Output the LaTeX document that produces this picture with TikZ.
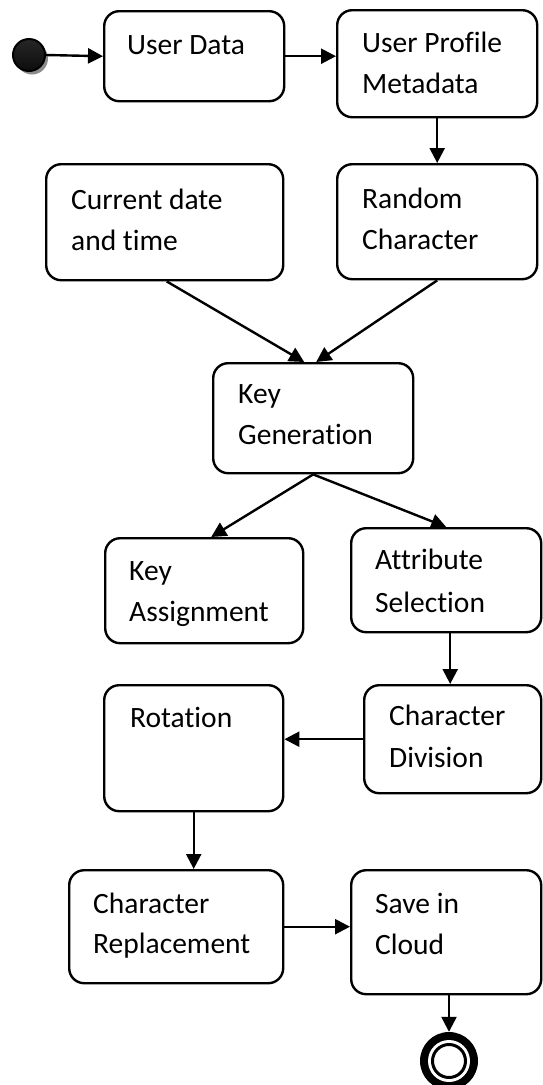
\documentclass[tikz,border=0pt]{standalone}
\usepackage{fontspec}
\setmainfont{Carlito}[Ligatures=NoCommon]
\usetikzlibrary{arrows.meta,calc}
\begin{document}
\begin{tikzpicture}[x=1pt,y=-1pt,
  box/.style={draw, line width=2.4pt, rounded corners=15pt, anchor=north west, inner sep=0pt, fill=white},
  lbl/.style={anchor=base west, inner sep=0pt, font=\fontsize{29.5}{34}\selectfont},
  flow/.style={line width=2.4pt, -{Triangle[length=15pt,width=15pt]}},
]
\useasboundingbox (0,0) rectangle (542,1085);

% boxes
\node[box, minimum width=180pt, minimum height=90pt]  (ud)  at (103,10)  {};
\node[box, minimum width=200pt, minimum height=107pt] (upm) at (336,9)   {};
\node[box, minimum width=237pt, minimum height=116pt] (cdt) at (45,163)  {};
\node[box, minimum width=200pt, minimum height=115pt] (rc)  at (336,163) {};
\node[box, minimum width=200pt, minimum height=110pt] (kg)  at (212,362) {};
\node[box, minimum width=198pt, minimum height=105pt] (ka)  at (104,537) {};
\node[box, minimum width=190pt, minimum height=104pt] (as)  at (350,527) {};
\node[box, minimum width=177pt, minimum height=108pt] (cd)  at (363,684) {};
\node[box, minimum width=179pt, minimum height=126pt] (rot) at (103,684) {};
\node[box, minimum width=214pt, minimum height=113pt] (cr)  at (68,869)  {};
\node[box, minimum width=190pt, minimum height=124pt] (sic) at (350,869) {};

% texts
\node[lbl] (udt)  at (127,54)  {User Data};
\node[lbl] (upt1) at (362,52)  {User Profile};
\node[lbl] (upt2) at (362,93)  {Metadata};
\node[lbl] (cdt1) at (71,209)  {Current date};
\node[lbl] (cdt2) at (71,250)  {and time};
\node[lbl] (rct1) at (362,208) {Random};
\node[lbl] (rct2) at (362,249) {Character};
\node[lbl] (kgt1) at (238,403) {Key};
\node[lbl] (kgt2) at (238,444) {Generation};
\node[lbl] (kat1) at (129,580) {Key};
\node[lbl] (kat2) at (129,621) {Assignment};
\node[lbl] (ast1) at (375,569) {Attribute};
\node[lbl] (ast2) at (375,612) {Selection};
\node[lbl] (rott) at (130,727) {Rotation};
\node[lbl] (cdv1) at (389,725) {Character};
\node[lbl] (cdv2) at (389,767) {Division};
\node[lbl] (crt1) at (93,913)  {Character};
\node[lbl] (crt2) at (93,953)  {Replacement};
\node[lbl] (sct1) at (375,913) {Save in};
\node[lbl] (sct2) at (375,954) {Cloud};

% start node
\fill[black!45] (32,58.5) circle (16pt);
\node[circle, draw, line width=2pt, minimum size=32pt, inner sep=0pt,
      top color=black!85, middle color=black!45, bottom color=black!95] (start) at (29,55) {};

% final node
\node[circle, fill=black, minimum size=58pt, inner sep=0pt] (fin) at (449,1061) {};
\fill[white] (fin.center) circle (21pt);
\draw[line width=3pt] (fin.center) circle (16.5pt);

% connectors
\draw[flow] (start.east) -- (ud.west);
\draw[flow] (ud.east) -- (ud.east -| upm.west);
\draw[flow] (upm.south) -- (rc.north);
\draw[flow] ([xshift=2pt]cdt.south) -- ([xshift=-9pt]kg.north);
\draw[flow] (rc.south) -- ([xshift=3pt]kg.north);
\draw[flow] (kg.south) -- ([xshift=7pt]ka.north);
\draw[flow] (kg.south) -- (as.north);
\draw[flow] ([xshift=4pt]as.south) -- ([xshift=4pt]as.south |- cd.north);
\draw[flow] (cd.west) -- (cd.west -| rot.east);
\draw[flow] (rot.south) -- (rot.south |- cr.north);
\draw[flow] (cr.east) -- (cr.east -| sic.west);
\draw[flow] (fin.north |- sic.south) -- (fin.north);
\end{tikzpicture}
\end{document}
